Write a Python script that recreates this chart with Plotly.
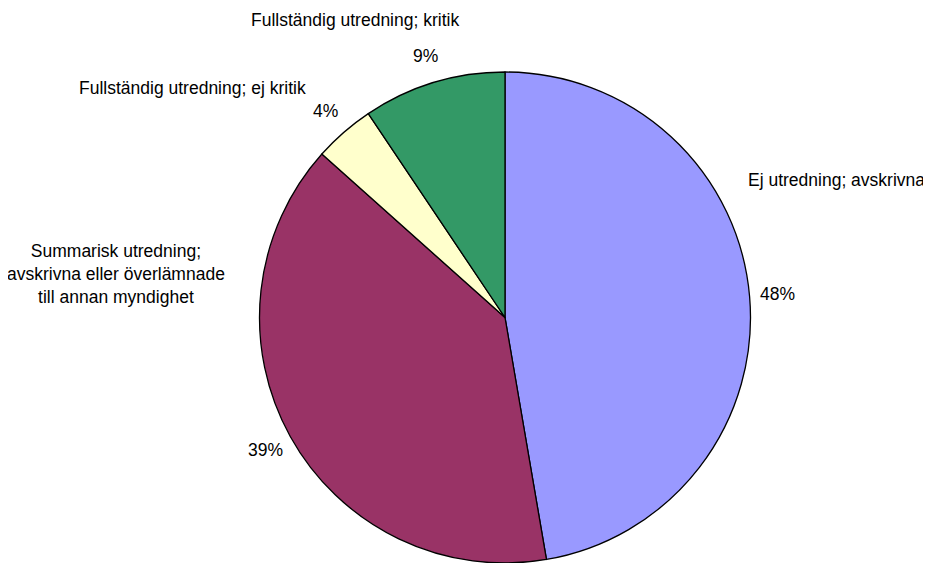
import math
import plotly.graph_objects as go

categories = [
    "Ej utredning; avskrivna",
    "Summarisk utredning;<br>avskrivna eller överlämnade<br>till annan myndighet",
    "Fullständig utredning; ej kritik",
    "Fullständig utredning; kritik",
]
values = [47.3, 39.3, 4.0, 9.4]
pct_labels = ["48%", "39%", "4%", "9%"]
colors = ["#9999FF", "#993366", "#FFFFCC", "#339966"]

OFF = 8  # browser body margin
W, H = 931 - OFF, 563 - OFF
CX, CY, R = 505 - OFF, 317.5 - OFF, 245.5  # pie centre/radius in figure pixels
FONT = "Liberation Sans, Arial, sans-serif"
FS = 17.5

fig = go.Figure(go.Pie(
    labels=[c.replace("<br>", " ") for c in categories],
    values=values,
    sort=False,
    direction="clockwise",
    rotation=0,
    marker=dict(colors=colors, line=dict(color="black", width=1.3)),
    textinfo="none",
    hoverinfo="label+percent",
    showlegend=False,
    domain=dict(x=[(CX - R) / W, (CX + R) / W], y=[max(0, (H - CY - R) / H), min(1, (H - CY + R) / H)]),
))

annotations = []
total = sum(values)
cum = 0.0
label_r = R + 28
for v, p in zip(values, pct_labels):
    mid = (cum + v / 2) / total * 2 * math.pi
    cum += v
    px = CX + label_r * math.sin(mid)
    py = CY - label_r * math.cos(mid)
    annotations.append(dict(x=px / W, y=1 - py / H, xref="paper", yref="paper",
                            text=p, showarrow=False, xanchor="center", yanchor="middle",
                            font=dict(size=FS, color="black", family=FONT)))

# category name positions (page pixels): anchor x, centre y, anchor
name_pos = [(927, 180, "right"), (116, 274, "center"), (192.5, 88, "center"), (355, 20, "center")]
for name, (nx, ny, al) in zip(categories, name_pos):
    annotations.append(dict(x=(nx - OFF) / W, y=1 - (ny - OFF) / H, xref="paper", yref="paper",
                            text=name, showarrow=False, xanchor=al, yanchor="middle", align="center",
                            font=dict(size=FS, color="black", family=FONT)))

fig.update_layout(
    width=W, height=H,
    margin=dict(l=0, r=0, t=0, b=0),
    paper_bgcolor="white", plot_bgcolor="white",
    annotations=annotations,
)
fig.write_html("out.html")
